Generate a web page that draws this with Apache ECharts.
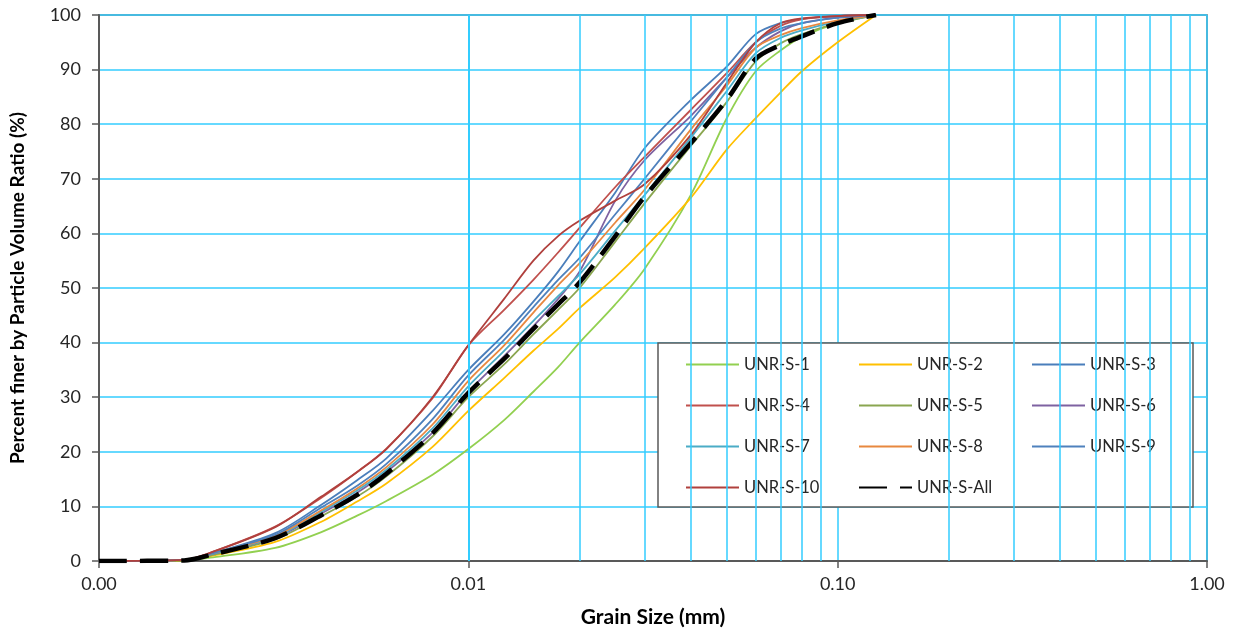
<!DOCTYPE html>
<html>
<head>
<meta charset="utf-8">
<title>Grain size distribution</title>
<script src="https://cdn.jsdelivr.net/npm/echarts@6/dist/echarts.min.js"></script>
<style>
  html, body { margin: 0; padding: 0; background: #fff; }
  #chart { width: 1237px; height: 633px; }
</style>
</head>
<body>
<div id="chart"></div>
<script>
// Grain size (mm) shared by every sample curve
const grainSize = [0.001, 0.0017, 0.002, 0.003, 0.004, 0.005, 0.006, 0.008, 0.01, 0.0125, 0.015, 0.0175, 0.02, 0.025, 0.03, 0.04, 0.05, 0.06, 0.07, 0.08, 0.1, 0.127];

// Percent finer by particle volume ratio (%) for each sample
const unrS1  = [0, 0.1, 0.6, 2.4, 5.3, 8.3, 11, 15.8, 20.5, 25.8, 31, 35.5, 40, 47, 53.5, 67, 81, 89.7, 93.5, 96, 98.5, 100];
const unrS2  = [0, 0.1, 0.9, 3.5, 7.2, 10.9, 14.2, 20.9, 27.5, 33.5, 38.5, 42.5, 46.3, 52, 57.3, 66.5, 75.3, 81.1, 85.8, 89.7, 95, 100];
const unrS3  = [0, 0.2, 1.3, 5.1, 10.3, 14.8, 18.8, 27.5, 35, 41.5, 47.5, 53, 58.5, 67.5, 75.6, 84.4, 90.5, 96.5, 98.5, 99.3, 99.8, 100];
const unrS4  = [0, 0.2, 1.5, 6.3, 11.6, 16.3, 20.6, 29.8, 39.5, 46, 51.5, 56.5, 61, 68.5, 74, 82.6, 89.3, 95, 98, 99.2, 99.8, 100];
const unrS5  = [0, 0.1, 1.0, 4.0, 8.2, 11.8, 15.5, 22.8, 30, 36, 41.5, 46, 50, 58.5, 65.5, 76, 84, 91.5, 94.8, 96.5, 98.5, 100];
const unrS6  = [0, 0.2, 1.2, 4.3, 8.7, 12.5, 16.3, 23.5, 31, 37.5, 43, 48, 53, 66, 73.4, 81.5, 88.5, 94, 97, 98.5, 99.5, 100];
const unrS7  = [0, 0.2, 1.2, 4.4, 9, 12.9, 16.7, 24.3, 32, 38.5, 44, 48.5, 52.5, 60.5, 67, 77.5, 86, 93, 95.8, 97.2, 98.8, 100];
const unrS8  = [0, 0.2, 1.3, 4.6, 9.3, 13.3, 17.2, 25, 33, 39.5, 45.5, 50.5, 54.5, 62, 68, 79, 87, 94, 96.3, 97.6, 99, 100];
const unrS9  = [0, 0.2, 1.3, 4.8, 9.8, 13.8, 17.8, 26, 34, 40.5, 46.5, 51.5, 55.5, 63.5, 70, 80.5, 88.5, 95, 97.5, 98.5, 99.5, 100];
const unrS10 = [0, 0.2, 1.5, 6.2, 11.8, 16.3, 20.5, 30, 39.5, 48, 55, 59.5, 62.3, 66, 69, 78, 87.5, 95, 98.5, 99.4, 99.8, 100];
const unrSAll = [0, 0.1, 1.1, 4.2, 8.4, 12.1, 16, 23.4, 30.8, 37, 42.5, 47, 51, 59.5, 66.7, 76.5, 84.4, 92, 94.5, 96.1, 98.5, 100];

const sampleNames = ['UNR-S-1', 'UNR-S-2', 'UNR-S-3', 'UNR-S-4', 'UNR-S-5', 'UNR-S-6', 'UNR-S-7', 'UNR-S-8', 'UNR-S-9', 'UNR-S-10', 'UNR-S-All'];
const sampleValues = [unrS1, unrS2, unrS3, unrS4, unrS5, unrS6, unrS7, unrS8, unrS9, unrS10, unrSAll];
const sampleColors = ['#92D050', '#FFC000', '#4A7EBB', '#C0504D', '#8AA650', '#7E62A1', '#4BACC6', '#E8883F', '#4F81BD', '#B0403D', '#000000'];

// Axis range and minor log grid (2..9 within each decade)
const xMin = 0.001, xMax = 1;
const decades = [0.001, 0.01, 0.1];
const minorGrain = [];
decades.forEach(d => { for (let k = 2; k <= 9; k++) minorGrain.push(+(d * k).toPrecision(3)); });

const FONT = 'Lato, "Liberation Sans", sans-serif';
const GRID_COLOR = '#33CCFF';
const AXIS_COLOR = '#595959';

const chart = echarts.init(document.getElementById('chart'), null, { renderer: 'canvas' });

const series = [{
  name: 'minor-grid',
  type: 'line',
  data: [],
  z: 1,
  silent: true,
  markLine: {
    silent: true,
    symbol: ['none', 'none'],
    label: { show: false },
    animation: false,
    lineStyle: { color: GRID_COLOR, width: 1.5, type: 'solid' },
    data: minorGrain.map(v => ({ xAxis: v }))
  }
}];

sampleNames.forEach((name, i) => {
  const isAll = name === 'UNR-S-All';
  series.push({
    name,
    type: 'line',
    z: 3,
    symbol: 'none',
    smooth: 0.3,
    data: grainSize.map((g, j) => [g, sampleValues[i][j]]),
    lineStyle: isAll
      ? { color: sampleColors[i], width: 4.5, type: [28, 13], cap: 'butt' }
      : { color: sampleColors[i], width: 1.8 },
    itemStyle: { color: sampleColors[i] }
  });
});

chart.setOption({
  animation: false,
  backgroundColor: '#ffffff',
  grid: {
    left: 99, right: 30, top: 15, bottom: 72,
    containLabel: false,
    outerBoundsMode: 'none',
    show: true, borderColor: AXIS_COLOR, borderWidth: 1.5, backgroundColor: 'transparent'
  },
  xAxis: {
    type: 'log',
    logBase: 10,
    min: xMin,
    max: xMax,
    name: 'Grain Size (mm)',
    nameLocation: 'middle',
    nameGap: 46,
    nameTextStyle: { fontFamily: FONT, fontSize: 21, fontWeight: 'bold', color: '#000' },
    axisLine: { show: true, lineStyle: { color: AXIS_COLOR, width: 2 } },
    axisTick: { show: true, inside: false, length: 7, lineStyle: { color: AXIS_COLOR, width: 1.5 } },
    axisLabel: {
      fontFamily: FONT, fontSize: 18, color: '#262626', margin: 14,
      formatter: v => Number(v).toFixed(2)
    },
    splitLine: { show: true, lineStyle: { color: GRID_COLOR, width: 1.5 } }
  },
  yAxis: {
    type: 'value',
    min: 0,
    max: 100,
    interval: 10,
    name: 'Percent finer by Particle Volume Ratio (%)',
    nameLocation: 'middle',
    nameGap: 72,
    nameTextStyle: { fontFamily: FONT, fontSize: 19, fontWeight: 'bold', color: '#000' },
    axisLine: { show: true, lineStyle: { color: AXIS_COLOR, width: 2 } },
    axisTick: { show: true, inside: false, length: 7, lineStyle: { color: AXIS_COLOR, width: 1.5 } },
    axisLabel: { fontFamily: FONT, fontSize: 18, color: '#262626', margin: 18 },
    splitLine: { show: true, lineStyle: { color: GRID_COLOR, width: 1.5 } }
  },
  legend: {
    data: sampleNames,
    left: 658,
    top: 343,
    orient: 'horizontal',
    width: 512,
    itemWidth: 53,
    itemHeight: 12,
    itemGap: 14,
    padding: [8, 3, 6, 27],
    backgroundColor: '#ffffff',
    borderColor: AXIS_COLOR,
    borderWidth: 1.5,
    itemStyle: { opacity: 0, borderWidth: 0 },
    textStyle: { fontFamily: FONT, fontSize: 16.5, color: '#262626', width: 100, lineHeight: 27 }
  },
  series
});
</script>
</body>
</html>
